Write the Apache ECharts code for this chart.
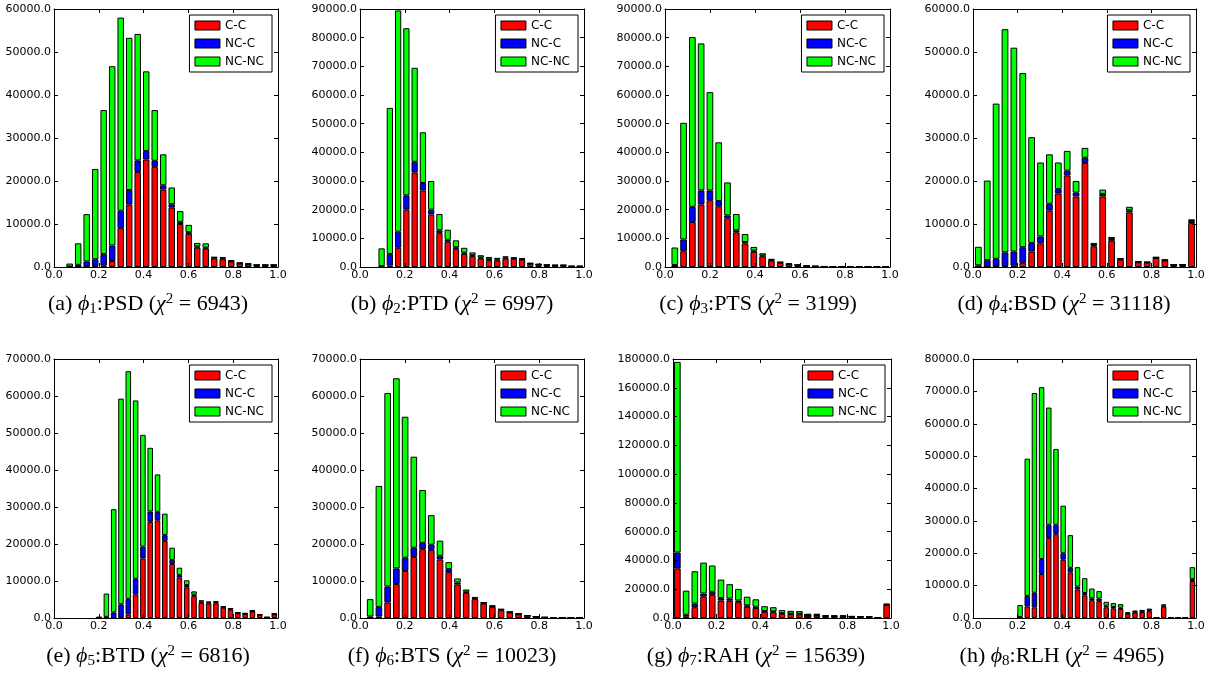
<!DOCTYPE html>
<html><head><meta charset="utf-8">
<script src="https://cdn.jsdelivr.net/npm/echarts@6/dist/echarts.min.js"></script>
<style>html,body{margin:0;padding:0;background:#fff}#c{width:1212px;height:675px}</style>
</head><body><div id="c"></div>
<script>
// ---- data (counts in thousands) ----
const seriesNames = ['C-C', 'NC-C', 'NC-NC'];
const letters = ['a','b','c','d','e','f','g','h'];
const features = ['PSD','PTD','PTS','BSD','BTD','BTS','RAH','RLH'];
const chi2 = [6943, 6997, 3199, 31118, 6816, 10023, 15639, 4965];
const yMax = [60000, 90000, 90000, 60000, 70000, 70000, 180000, 80000];
const yStep = [10000, 10000, 10000, 10000, 10000, 10000, 20000, 10000];
const binLo = [0.051, 0.078, 0.024, 0.004, 0.185, 0.026, 0.0, 0.195];
const binHi = [1.0, 1.0, 1.0, 1.0, 1.0, 1.0, 1.0, 1.0];

const ccA = [0,0,0.1,0.2,0.3,1.4,9.1,14.5,22.1,25.0,23.3,18.0,13.8,10.0,7.7,4.5,4.3,2.0,1.8,1.3,0.8,0.6,0.4,0.4,0.4];
const nccA = [0.1,0.5,1.2,1.6,2.7,3.6,4.0,3.4,2.7,2.0,1.4,1.0,0.8,0.5,0.4,0.3,0.2,0.2,0.2,0.1,0.1,0.1,0.05,0.05,0.05];
const ncncA = [0.7,5.0,11.0,21.0,33.5,41.7,44.9,35.4,29.4,18.5,11.8,7.2,3.9,2.5,1.7,0.8,1.0,0.1,0.3,0.2,0.1,0.1,0.05,0.05,0.05];

const ccB = [0,0.5,6.7,20.0,33.0,26.7,18.3,11.8,8.8,6.2,4.6,3.8,3.0,2.4,2.3,2.9,2.9,2.6,1.1,0.8,0.6,0.5,0.5,0.2,0.2];
const nccB = [0.3,4.0,5.6,5.0,3.7,2.6,1.7,1.0,0.7,0.7,0.4,0.3,0.3,0.3,0.3,0.4,0.2,0.2,0.1,0.1,0.1,0.1,0.1,0.05,0.05];
const ncncB = [6.2,51.0,77.2,58.3,32.8,17.7,10.0,5.7,3.5,2.4,1.7,1.0,0.8,0.8,0.6,0.4,0.2,0.2,0.2,0.1,0.1,0.1,0.1,0.05,0.05];

const ccC = [0,5.5,15.7,21.8,23.3,21.2,17.0,12.1,8.2,5.3,3.7,2.2,1.4,0.9,0.6,0.3,0.2,0.15,0.08,0.05,0.04,0.03,0.03,0.02,0.02];
const nccC = [0.7,4.1,5.3,4.9,3.4,1.8,1.0,0.7,0.5,0.4,0.3,0.3,0.2,0.1,0.1,0.05,0.05,0.03,0.01,0.01,0,0,0,0,0];
const ncncC = [6.1,40.7,59.2,51.3,34.3,20.5,11.5,5.7,2.8,1.3,0.8,0.3,0.2,0.2,0.1,0.05,0.05,0.02,0.01,0.01,0,0,0,0,0];

const ccD = [0,0,0.1,0.2,0.3,0.9,3.6,5.5,13.1,17.1,21.3,16.4,24.2,4.8,16.4,6.1,1.7,12.7,1.1,1.0,2.1,1.5,0.5,0.5,10.2];
const nccD = [0.4,1.6,1.8,3.2,3.3,3.7,2.0,1.6,1.6,1.0,1.1,0.9,1.2,0.3,0.6,0.4,0.2,0.5,0.1,0.1,0.1,0.1,0.05,0.05,0.5];
const ncncD = [4.3,18.5,36.1,51.9,47.4,40.5,24.6,17.2,11.5,6.2,4.6,2.7,2.3,0.5,1.0,0.5,0.1,0.8,0.1,0.1,0.1,0.1,0.05,0.05,0.4];

const ccE = [0,0,0,0.1,0.9,6.4,16.1,26.0,26.4,20.8,14.6,10.9,8.3,5.9,4.1,3.9,4.0,2.8,2.3,1.3,1.1,1.8,0.8,0.15,1.0];
const nccE = [0.1,0.3,1.5,3.6,4.3,4.2,3.2,2.8,2.3,1.6,1.1,0.7,0.6,0.4,0.3,0.3,0.3,0.2,0.2,0.1,0.1,0.1,0.1,0.03,0.1];
const ncncE = [0.2,6.3,27.9,55.6,61.5,48.2,30.2,17.2,10.1,5.8,3.3,2.0,1.3,0.9,0.4,0.2,0.2,0.1,0.1,0.1,0.1,0.1,0.1,0.02,0.1];

const ccF = [0,0.4,4.2,9.2,12.7,16.5,18.6,18.4,15.8,12.4,9.1,6.8,5.1,3.9,3.0,2.1,1.5,1.0,0.6,0.3,0.15,0.08,0.05,0.05,0.05];
const nccF = [0.4,2.6,4.3,4.2,3.6,2.5,1.7,1.4,1.0,0.8,0.5,0.3,0.2,0.2,0.2,0.2,0.1,0.1,0.05,0.05,0.03,0.01,0,0,0];
const ncncF = [4.7,32.7,52.3,51.4,38.1,24.6,14.3,8.0,4.1,1.9,1.1,0.6,0.4,0.1,0.2,0.1,0.1,0.1,0.05,0.05,0.02,0.01,0,0,0];

const ccG = [34.5,1.2,7.5,14.8,16.1,12.1,12.0,11.0,7.8,6.9,4.3,4.0,2.9,2.7,2.6,1.5,1.6,1.2,1.1,1.1,0.8,0.7,0.6,0.25,9.0];
const nccG = [11.0,1.1,2.5,2.2,2.1,1.7,1.5,1.2,1.0,0.9,0.6,0.6,0.5,0.4,0.4,0.3,0.3,0.2,0.2,0.2,0.1,0.1,0.1,0.05,0.3];
const ncncG = [132.5,16.7,22.5,21.5,18.3,12.9,10.0,8.0,6.0,5.2,3.3,2.9,2.1,1.9,1.8,1.2,1.1,0.6,0.5,0.5,0.4,0.4,0.3,0.1,0.7];

const ccH = [0,3.6,3.3,13.6,24.7,26.0,18.0,14.1,8.8,7.0,5.5,5.2,3.3,3.0,2.8,1.3,1.7,1.8,2.1,0,3.5,0,0,0,11.4];
const nccH = [0.3,3.2,4.5,4.6,4.1,2.8,2.0,1.4,0.9,0.7,0.6,0.8,0.5,0.4,0.4,0.2,0.2,0.2,0.3,0,0.3,0,0,0,0.6];
const ncncH = [3.7,42.4,61.7,53.1,36.2,23.4,14.7,10.1,6.0,4.6,3.0,2.3,1.2,1.2,1.1,0.3,0.4,0.5,0.5,0,0.4,0,0,0,3.7];

const panelData = [
  [ccA, nccA, ncncA], [ccB, nccB, ncncB], [ccC, nccC, ncncC], [ccD, nccD, ncncD],
  [ccE, nccE, ncncE], [ccF, nccF, ncncF], [ccG, nccG, ncncG], [ccH, nccH, ncncH]
];
const subs = ['1','2','3','4','5','6','7','8'];

// ---- layout ----
const W = 1212;
const grids = [
  {left:54, top:9, width:224, height:258},
  {left:360, top:9, width:224, height:258},
  {left:665, top:9, width:225, height:258},
  {left:973, top:9, width:223, height:258},
  {left:54, top:359, width:224, height:259},
  {left:360, top:359, width:224, height:259},
  {left:673, top:359, width:218, height:259},
  {left:973, top:359, width:223, height:259}
];
const captionX = [148, 452, 758, 1064, 148, 452, 756, 1062];
const captionY = [304, 304, 304, 304, 656, 656, 656, 656];
const colors = ['#ff0000', '#0000ff', '#00ff00'];
const FONT = 'DejaVu Sans';

const option = {
  animation: false, backgroundColor: '#fff',
  grid: [], xAxis: [], yAxis: [], series: [], legend: [], graphic: []
};

function axisBase(show) {
  return {
    axisLine: {show: true, onZero: false, lineStyle: {color: '#000', width: 1}},
    axisTick: {show: true, inside: true, length: 4, lineStyle: {color: '#000', width: 1}},
    splitLine: {show: false},
    axisLabel: {show: show, color: '#000', fontFamily: FONT, fontSize: 11, margin: 3,
      formatter: v => Number(v).toFixed(1)}
  };
}

grids.forEach((g, i) => {
  // frame grid with visible axes
  const gFrame = option.grid.length;
  option.grid.push({left: g.left, top: g.top, width: g.width, height: g.height});
  option.xAxis.push(Object.assign({gridIndex: gFrame, type: 'value', min: 0, max: 1, interval: 0.2, position: 'bottom', z: 5}, axisBase(true)));
  option.xAxis.push(Object.assign({gridIndex: gFrame, type: 'value', min: 0, max: 1, interval: 0.2, position: 'top', z: 5}, axisBase(false)));
  option.yAxis.push(Object.assign({gridIndex: gFrame, type: 'value', min: 0, max: yMax[i], interval: yStep[i], position: 'left', z: 5}, axisBase(true)));
  option.yAxis.push(Object.assign({gridIndex: gFrame, type: 'value', min: 0, max: yMax[i], interval: yStep[i], position: 'right', z: 5}, axisBase(false)));

  // histogram grid: covers the bin range [lo, hi] of the 0..1 axis
  const lo = binLo[i], hi = binHi[i];
  const gBars = option.grid.length;
  option.grid.push({left: g.left + lo * g.width, top: g.top, width: (hi - lo) * g.width, height: g.height});
  const xIdx = option.xAxis.length, yIdx = option.yAxis.length;
  const binLabels = panelData[i][0].map((_, k) => String(k));
  option.xAxis.push({gridIndex: gBars, type: 'category', data: binLabels, show: false, boundaryGap: true});
  option.yAxis.push({gridIndex: gBars, type: 'value', min: 0, max: yMax[i], show: false});

  panelData[i].forEach((arr, s) => {
    option.series.push({
      type: 'bar', name: seriesNames[s], xAxisIndex: xIdx, yAxisIndex: yIdx,
      stack: 'p' + i, barCategoryGap: '24%', silent: true,
      emphasis: {disabled: true},
      itemStyle: {color: colors[s], borderColor: '#000', borderWidth: 1},
      data: arr.map(v => v * 1000)
    });
  });

  option.legend.push({
    orient: 'vertical', top: g.top + 6, right: W - (g.left + g.width) + 6,
    data: seriesNames, icon: 'rect', itemWidth: 25, itemHeight: 9, itemGap: 5,
    padding: [4, 8, 4, 5], borderColor: '#000', borderWidth: 1, borderRadius: 0,
    backgroundColor: '#fff', selectedMode: false,
    itemStyle: {borderColor: '#000', borderWidth: 1},
    textStyle: {fontFamily: FONT, fontSize: 12, color: '#000', lineHeight: 13}
  });

  option.graphic.push({
    type: 'text', x: captionX[i], y: captionY[i], silent: true,
    style: {
      text: '{t|(' + letters[i] + ') }{i|\u03d5}{s|' + subs[i] + '}{t|:' + features[i] + ' (}{i|\u03c7}{p|2}{t| = ' + chi2[i] + ')}',
      align: 'center', verticalAlign: 'middle',
      rich: {
        t: {fontFamily: 'Liberation Serif', fontSize: 22, fill: '#000'},
        i: {fontFamily: 'Liberation Serif', fontSize: 22, fontStyle: 'italic', fill: '#000'},
        s: {fontFamily: 'Liberation Serif', fontSize: 15, fill: '#000', padding: [10, 0, 0, 0]},
        p: {fontFamily: 'Liberation Serif', fontSize: 15, fill: '#000', padding: [0, 0, 10, 0]}
      }
    }
  });
});

const chart = echarts.init(document.getElementById('c'), null, {renderer: 'canvas'});
chart.setOption(option);
</script>
</body></html>
